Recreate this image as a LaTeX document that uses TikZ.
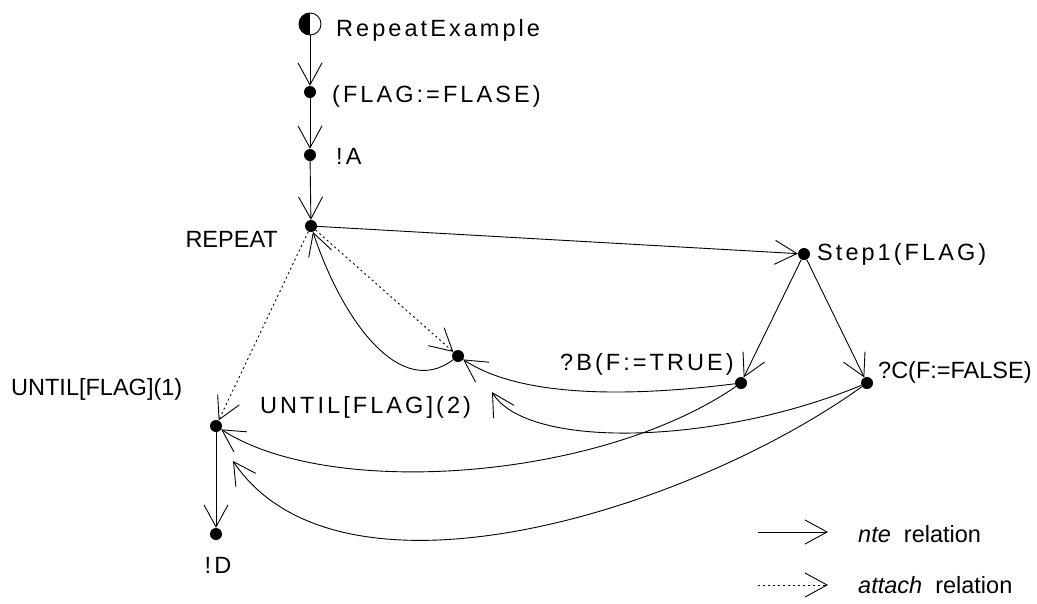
\documentclass[tikz,border=0pt]{standalone}
\usepackage{fontspec}
\setmainfont{Liberation Sans}
\newfontfamily\spaced[LetterSpace=13]{Liberation Sans}
\usetikzlibrary{arrows.meta}

\tikzset{
  state/.style={circle, fill, inner sep=0pt, minimum size=12pt},
  init/.style={circle, draw, line width=0.9pt, inner sep=0pt, minimum size=22pt,
    path picture={\fill (path picture bounding box.south west) rectangle (path picture bounding box.north);}},
  lbl/.style={inner sep=0pt, font=\fontsize{23.5}{28}\spaced},
  plain/.style={inner sep=0pt, font=\fontsize{23.5}{28}\selectfont},
  nte/.style={line width=0.9pt, -{Straight Barb[length=22pt,width=24pt]}},
  attach/.style={nte, dash pattern=on 2pt off 3pt},
}

\begin{document}
\begin{tikzpicture}[x=1pt, y=-1pt]
  \useasboundingbox (0,0) rectangle (1037,603);

  % states
  \node[init]  (start) at (310,24)  {};
  \node[state] (flag)  at (310,92)  {};
  \node[state] (sendA) at (310,155) {};
  \node[state] (rep)   at (311,226) {};
  \node[state] (step)  at (804,254) {};
  \node[state] (recB)  at (741,383) {};
  \node[state] (recC)  at (867,383) {};
  \node[state] (untwo) at (458,356) {};
  \node[state] (unone) at (216,426) {};
  \node[state] (sendD) at (216,534) {};
  \coordinate (untwoIn) at (492,392);
  \coordinate (unoneIn) at (233,461);

  % labels
  \node[lbl, anchor=base west]   (tStart) at (336,36)  {RepeatExample};
  \node[lbl, anchor=base west]   (tFlag)  at (332,102) {(FLAG:=FLASE)};
  \node[lbl, anchor=base west]   (tA)     at (336,164) {!A};
  \node[plain, anchor=base east] (tRep)   at (278,247) {REPEAT};
  \node[lbl, anchor=base west]   (tStep)  at (817,260) {Step1(FLAG)};
  \node[lbl, anchor=base west]   (tB)     at (560,370) {?B(F:=TRUE)};
  \node[plain, anchor=base west] (tC)     at (878,378) {?C(F:=FALSE)};
  \node[plain, anchor=base west] (tOne)   at (11,395)  {UNTIL[FLAG](1)};
  \node[lbl, anchor=base west]   (tTwo)   at (260,413) {UNTIL[FLAG](2)};
  \node[lbl, anchor=base]        (tD)     at (218,573) {!D};

  % nte relations
  \draw[nte] (start) -- (flag);
  \draw[nte] (flag) -- (sendA);
  \draw[nte] (sendA) -- (rep);
  \draw[nte] (rep) -- (step);
  \draw[nte] (step) -- (recB);
  \draw[nte] (step) -- (recC);
  \draw[nte] (unone) -- (sendD);
  \draw[nte] (untwo) .. controls +(-58,44) and +(31,94) .. (rep);
  \draw[nte] (recB) .. controls +(-120,15) and +(60,40) .. (untwo);
  \draw[nte] (recC) .. controls +(-150,62) and +(35,58) .. (untwoIn);
  \draw[nte] (recB) .. controls +(-141,97) and +(114,74) .. (unone);
  \draw[nte] (recC) .. controls +(-177,127) and +(107,159) .. (unoneIn);

  % attach relations
  \draw[attach] (rep) -- (untwo);
  \draw[attach] (rep) -- (unone);

  % legend
  \coordinate (nteA) at (758,532);
  \coordinate (nteB) at (828,532);
  \coordinate (attA) at (758,585);
  \coordinate (attB) at (828,585);
  \draw[nte] (nteA) -- (nteB);
  \draw[attach] (attA) -- (attB);
  \node[plain, anchor=base west] (tNte) at (858,542) {\textit{nte}\ \ relation};
  \node[plain, anchor=base west] (tAtt) at (858,593) {\textit{attach}\ \ relation};
\end{tikzpicture}
\end{document}
